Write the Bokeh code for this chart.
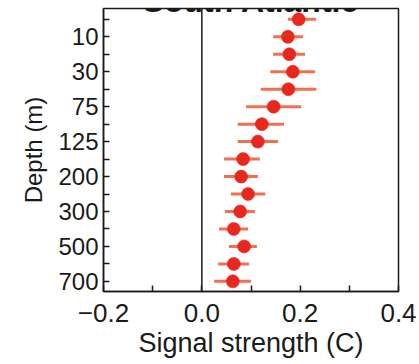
from bokeh.plotting import figure
from bokeh.models import Range1d, FixedTicker, Span, Label, ColumnDataSource
from bokeh.embed import file_html
from bokeh.resources import INLINE

depths = ["5", "10", "20", "30", "50", "75", "100", "125", "150", "200",
          "250", "300", "400", "500", "600", "700"]
labeled = ["10", "30", "75", "125", "200", "300", "500", "700"]
signal = [0.197, 0.175, 0.178, 0.185, 0.176, 0.146, 0.122, 0.114,
          0.084, 0.080, 0.094, 0.078, 0.065, 0.086, 0.065, 0.063]
lower = [0.175, 0.145, 0.145, 0.139, 0.120, 0.090, 0.073, 0.073,
         0.045, 0.045, 0.059, 0.047, 0.035, 0.055, 0.033, 0.025]
upper = [0.232, 0.206, 0.210, 0.230, 0.233, 0.202, 0.167, 0.155,
         0.118, 0.114, 0.129, 0.108, 0.094, 0.112, 0.096, 0.100]
x_ticks = [-0.2, 0.0, 0.2, 0.4]
x_minor = [-0.1, 0.1, 0.3]
title_text = "South Atlantic"

pos = list(range(len(depths)))
src = ColumnDataSource(dict(y=pos, x=signal, lo=lower, hi=upper))

FONT = "Liberation Sans"
p = figure(width=419, height=364, output_backend="svg", toolbar_location=None,
           x_range=Range1d(-0.2, 0.4), y_range=Range1d(15.58, -0.62),
           min_border_left=103, min_border_right=21, min_border_top=8,
           min_border_bottom=73, background_fill_color="white",
           border_fill_color="white")
p.xgrid.visible = False
p.ygrid.visible = False
p.outline_line_color = "#1a1a1a"
p.outline_line_width = 1.5
p.outline_line_alpha = 1.0

p.add_layout(Span(location=0, dimension="height", line_color="#1a1a1a", line_width=1.5))

p.segment(x0="lo", x1="hi", y0="y", y1="y", source=src, line_color="#f2603c",
          line_width=3, line_alpha=0.9)
p.scatter(x="x", y="y", source=src, size=13, fill_color="#e8281e",
          line_color="#e8281e", line_alpha=0.6)

xa = p.xaxis[0]
xa.ticker = FixedTicker(ticks=x_ticks, minor_ticks=x_minor)
xa.major_label_overrides = {t: ("\u22120.2" if t < 0 else f"{t:.1f}") for t in x_ticks}
xa.axis_label = "Signal strength (C)"

ya = p.yaxis[0]
maj = [i for i, d in enumerate(depths) if d in labeled]
mnr = [i for i, d in enumerate(depths) if d not in labeled]
ya.ticker = FixedTicker(ticks=maj, minor_ticks=mnr)
ya.major_label_overrides = {i: depths[i] for i in maj}
ya.axis_label = "Depth (m)"

for ax in (xa, ya):
    ax.major_tick_in = 6
    ax.major_tick_out = 0
    ax.minor_tick_in = 6
    ax.minor_tick_out = 0
    ax.axis_line_color = "#1a1a1a"
    ax.axis_line_width = 1.5
    ax.major_tick_line_color = "#1a1a1a"
    ax.minor_tick_line_color = "#1a1a1a"
    ax.major_tick_line_width = 1.5
    ax.minor_tick_line_width = 1.5
    ax.major_label_text_font = FONT
    ax.major_label_text_font_size = "24px"
    ax.major_label_text_color = "#1a1a1a"
    ax.axis_label_text_font = FONT
    ax.axis_label_text_font_size = "24px"
    ax.axis_label_text_font_style = "normal"
    ax.axis_label_text_color = "#1a1a1a"
xa.major_label_text_font_size = "26px"
xa.axis_label_text_font_size = "27px"
xa.major_label_standoff = 12
xa.axis_label_standoff = 3
ya.major_label_standoff = 5
ya.axis_label_standoff = 8

p.add_layout(Label(x=147.5, y=291, x_units="screen", y_units="screen",
                   text=title_text, text_align="center", text_baseline="alphabetic",
                   text_font=FONT, text_font_size="32px", text_font_style="bold",
                   text_color="#1a1a1a"))

open("out.html", "w").write(file_html(p, INLINE))
